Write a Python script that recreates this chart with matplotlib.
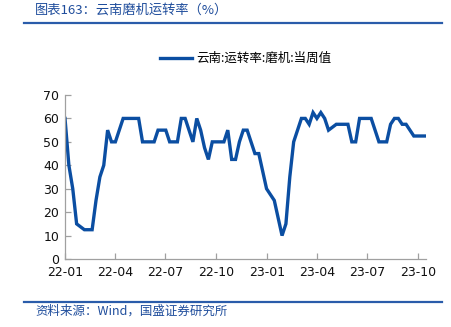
import matplotlib
matplotlib.use("Agg")
import matplotlib.pyplot as plt
import pandas as pd

plt.rcParams['font.family'] = ['Noto Sans CJK SC', 'DejaVu Sans']

# Weekly mill operating rate, Yunnan (%)
start_date = "2022-01-01"
rate = [
    60, 40, 30, 15, 13.75, 12.5, 12.5, 12.5, 25, 35,
    40, 55, 50, 50, 55, 60, 60, 60, 60, 60,
    50, 50, 50, 50, 55, 55, 55, 50, 50, 50,
    60, 60, 55, 50, 60, 55, 47.5, 42.5, 50, 50,
    50, 50, 55, 42.5, 42.5, 50, 55, 55, 50, 45,
    45, 37.5, 30, 27.5, 25, 17.5, 10, 15, 35, 50,
    55, 60, 60, 57.5, 62.5, 60, 62.5, 60, 55, 56.25,
    57.5, 57.5, 57.5, 57.5, 50, 50, 60, 60, 60, 60,
    55, 50, 50, 50, 57.5, 60, 60, 57.5, 57.5, 55,
    52.5, 52.5, 52.5, 52.5,
]
dates = pd.date_range(start_date, periods=len(rate), freq="7D")

tick_dates = pd.to_datetime(["2022-01-01", "2022-04-01", "2022-07-01", "2022-10-01",
                             "2023-01-01", "2023-04-01", "2023-07-01", "2023-10-01"])
tick_labels = ["22-01", "22-04", "22-07", "22-10", "23-01", "23-04", "23-07", "23-10"]
y_ticks = [0, 10, 20, 30, 40, 50, 60, 70]

title = "图表163：云南磨机运转率（%）"
source = "资料来源：Wind，国盛证券研究所"
series_name = "云南:运转率:磨机:当周值"

line_color = "#0b4ea2"
header_color = "#1f4d9c"

fig = plt.figure(figsize=(4.52, 3.27), dpi=100)
ax = fig.add_axes([65 / 452, 1 - 259 / 327, (426 - 65) / 452, (259 - 95) / 327])

ax.plot(dates, rate, color=line_color, lw=2.4, solid_joinstyle="miter", label=series_name)

ax.set_ylim(0, 70)
ax.set_yticks(y_ticks)
ax.set_xlim(pd.Timestamp("2022-01-01"), dates[-1] + pd.Timedelta(days=1))
ax.set_xticks(tick_dates)
ax.set_xticklabels(tick_labels)

for side in ("top", "right"):
    ax.spines[side].set_visible(False)
for side in ("left", "bottom"):
    ax.spines[side].set_color("#a0a0a0")
    ax.spines[side].set_linewidth(0.9)
ax.tick_params(axis="both", direction="in", length=4, width=0.9, color="#a0a0a0",
               labelsize=9, labelcolor="#111111", pad=5)
ax.tick_params(axis="y", pad=4)
for lbl in ax.get_xticklabels() + ax.get_yticklabels():
    lbl.set_fontfamily("DejaVu Sans")

leg = ax.legend(loc="upper center", bbox_to_anchor=(0.50, 1.33), frameon=False,
                fontsize=9, handlelength=2.6, handletextpad=0.3)

# header and footer
fig.text(35 / 452, 1 - 10 / 327, title, color=header_color, fontsize=9.5,
         ha="left", va="center", style="italic")
fig.add_artist(plt.Line2D([24 / 452, 442 / 452], [1 - 23 / 327, 1 - 23 / 327],
                          color="#2a5caa", lw=1.6))
fig.add_artist(plt.Line2D([24 / 452, 442 / 452], [1 - 301.5 / 327, 1 - 301.5 / 327],
                          color="#2a5caa", lw=1.6))
fig.text(35 / 452, 1 - 311 / 327, source, color=header_color, fontsize=9,
         ha="left", va="center", style="italic")

fig.savefig("out.png", dpi=100)
